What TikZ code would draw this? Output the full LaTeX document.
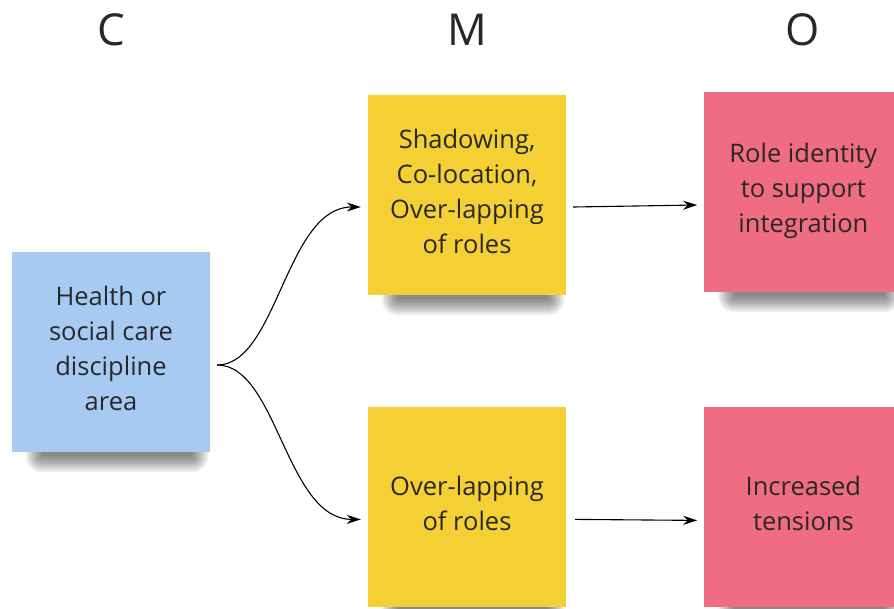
\documentclass[tikz,border=0pt]{standalone}
\usepackage{fontspec}
\setmainfont{Open Sans}
\usepackage{xcolor}
\usepackage{tikz}
\usetikzlibrary{positioning,arrows.meta,backgrounds}

\definecolor{noteblue}{RGB}{167,202,243}
\definecolor{noteyellow}{RGB}{245,208,52}
\definecolor{notepink}{RGB}{239,108,130}
\definecolor{inktext}{RGB}{40,40,40}

\tikzset{
  note/.style={minimum width=198pt, minimum height=200pt, align=center,
    text=inktext, font=\fontsize{25.5}{35}\selectfont, text depth=8pt},
  cnote/.style={note, fill=noteblue},
  mnote/.style={note, fill=noteyellow},
  onote/.style={note, fill=notepink},
  head/.style={text=inktext, font=\fontsize{44}{50}\selectfont},
  link/.style={line width=1.1pt, -{Stealth[length=14pt,width=9pt]}},
  softshade/.style={fill=black, fill opacity=0.065}
}

\begin{document}
\begin{tikzpicture}[x=1pt, y=-1pt]
        \useasboundingbox (0,0) rectangle (894,608);
        \clip (0,0) rectangle (894,608);

        % column headings
        \node[head] (hC) at (111,30) {C};
        \node[head] (hM) at (467,30) {M};
        \node[head] (hO) at (803,30) {O};

        % sticky notes
        \node[cnote] (C) at (111,352) {Health or\\social care\\discipline\\area};
        \node[mnote] (M1) at (467,195) {Shadowing,\\Co-location,\\Over-lapping\\of roles};
        \node[mnote] (M2) [below=112pt of M1] {Over-lapping\\of roles};
        \node[onote] (O1) [right=138pt of M1, yshift=3pt] {Role identity\\to support\\integration};
        \node[onote] (O2) [right=138pt of M2] {Increased\\tensions};

        % soft shadow under each note, built up from stacked translucent boxes
        \begin{scope}[on background layer]
          \foreach \n in {C,M1,M2,O1,O2}
            \foreach \r in {0,2,...,16}
              \fill[softshade, rounded corners=\r pt]
                ([xshift=30pt-\r pt, yshift=30pt+\r pt]\n.south west) rectangle
                ([xshift=-18pt+\r pt, yshift=-4pt-\r pt]\n.south east);
        \end{scope}

        \coordinate (split) at ([xshift=7pt, yshift=-13pt]C.east);

        % from the context to both mechanisms
        \draw[link] (split) .. controls +(60,0) and +(-75,0) .. ([xshift=-7pt, yshift=-12pt]M1.west);
        \draw[link] (split) .. controls +(60,0) and +(-75,0) .. ([xshift=-7pt, yshift=-12pt]M2.west);

        % from each mechanism to its outcome
        \path
          ([xshift=7pt, yshift=-12pt]M1.east) edge[link] ([xshift=-7pt, yshift=-10pt]M1.east -| O1.west)
          ([xshift=9pt, yshift=-12pt]M2.east) edge[link] ([xshift=-7pt, yshift=-13pt]O2.west);
\end{tikzpicture}
\end{document}
